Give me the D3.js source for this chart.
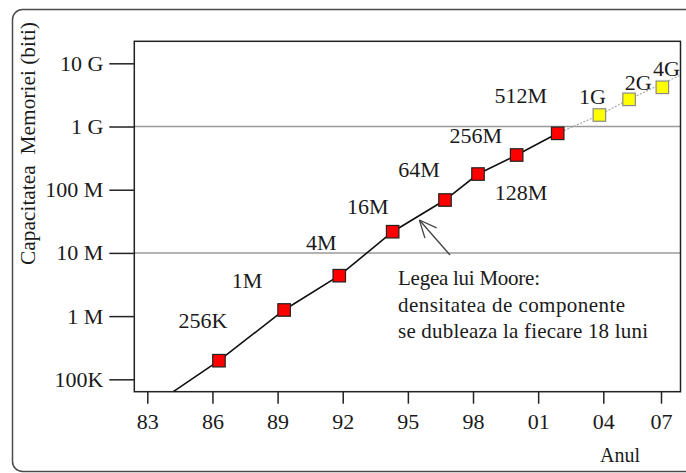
<!DOCTYPE html>
<html>
<head>
<meta charset="utf-8">
<script src="https://cdn.jsdelivr.net/npm/d3@7/dist/d3.min.js"></script>
<style>
body { margin: 0; padding: 0; background: #fff; overflow: hidden; }
svg text { font-family: 'Liberation Serif', 'Times New Roman', serif; fill: #1a1a1a; }
</style>
</head>
<body>
<div id="main"></div>
<script>
const chipYears = [1986.3, 1989.3, 1991.84, 1994.3, 1996.71, 1998.23, 2000.01, 2001.9];
const chipBits = [1.97e5, 1.25e6, 4.36e6, 2.165e7, 6.87e7, 1.77e8, 3.54e8, 7.8e8];
const chipLabels = ['256K', '1M', '4M', '16M', '64M', '128M', '256M', '512M'];

const futureYears = [2003.82, 2005.34, 2007.07];
const futureBits = [1.52e9, 2.69e9, 4.17e9];
const futureLabels = ['1G', '2G', '4G'];

// trend line: start before the first chip, end after the last projection
const trendStartYear = 1984.2, trendStartBits = 6.4e4;
const trendEndYear = 2008.0, trendEndBits = 6.5e9;

const yTickValues = [1e5, 1e6, 1e7, 1e8, 1e9, 1e10];
const yTickLabels = ['100K', '1 M', '10 M', '100 M', '1 G', '10 G'];
const gridValues = [1e7, 1e9];
const xTickYears = [1983, 1986, 1989, 1992, 1995, 1998, 2001, 2004, 2007];
const xTickLabels = ['83', '86', '89', '92', '95', '98', '01', '04', '07'];

const noteLines = ['Legea lui Moore:', 'densitatea de componente', 'se dubleaza la fiecare 18 luni'];
const arrowTip = [1995.53, 3.32e7];
const arrowTail = [1996.94, 9.26e6];

// label offsets from their squares (layout only)
const chipLabelOffsets = [[-16, -40], [-37, -30], [-18, -33], [-25, -25], [-26, -31], [43, 18], [-41, -20], [-37, -38]];
const futureLabelOffsets = [[-7, -19], [9, -17], [4, -19]];

const WIDTH = 686, HEIGHT = 473;
const PLOT = { left: 134.3, right: 680.5, top: 41.3, bottom: 391.7 };

const svg = d3.select('#main').append('svg')
    .attr('width', WIDTH)
    .attr('height', HEIGHT);

// outer rounded frame (cut by the image on the right)
svg.append('rect')
    .attr('x', 12.5).attr('y', 9.5)
    .attr('width', 700).attr('height', 462)
    .attr('rx', 10).attr('ry', 10)
    .attr('fill', 'none')
    .attr('stroke', '#4a4a4a')
    .attr('stroke-width', 1.5);

const x = d3.scaleLinear()
    .domain([1983, 2004, 2007])
    .range([147.3, 603.3, 661]);
const y = d3.scaleLog()
    .domain([63660, 2.23e10])
    .range([PLOT.bottom, PLOT.top]);

// grid lines at 10M and 1G
svg.selectAll('line.grid').data(gridValues).enter().append('line')
    .attr('class', 'grid')
    .attr('x1', PLOT.left).attr('x2', PLOT.right)
    .attr('y1', d => y(d)).attr('y2', d => y(d))
    .attr('stroke', '#9a9a9a')
    .attr('stroke-width', 1.5);

// plot frame
svg.append('rect')
    .attr('x', PLOT.left).attr('y', PLOT.top)
    .attr('width', PLOT.right - PLOT.left)
    .attr('height', PLOT.bottom - PLOT.top)
    .attr('fill', 'none')
    .attr('stroke', '#222')
    .attr('stroke-width', 1.5);

const axisY = d3.axisLeft(y)
    .tickValues(yTickValues)
    .tickFormat((d, i) => yTickLabels[i])
    .tickSize(25)
    .tickPadding(6);
const gy = svg.append('g')
    .attr('transform', `translate(${PLOT.left}, 0)`)
    .call(axisY);
gy.select('.domain').remove();
gy.selectAll('line').attr('stroke', '#222').attr('stroke-width', 1.5);
gy.selectAll('text')
    .attr('font-size', 22)
    .attr('fill', null);
gy.attr('font-family', null).attr('font-size', null);

const axisX = d3.axisBottom(x)
    .tickValues(xTickYears)
    .tickFormat((d, i) => xTickLabels[i])
    .tickSize(12)
    .tickPadding(10);
const gx = svg.append('g')
    .attr('transform', `translate(0, ${PLOT.bottom})`)
    .call(axisX);
gx.select('.domain').remove();
gx.selectAll('line').attr('stroke', '#222').attr('stroke-width', 1.5);
gx.selectAll('text')
    .attr('font-size', 22)
    .attr('fill', null);
gx.attr('font-family', null).attr('font-size', null);

// trend lines
const line = d3.line().x(d => x(d[0])).y(d => y(d[1]));
const blackPts = [[trendStartYear, trendStartBits]].concat(chipYears.map((d, i) => [d, chipBits[i]]));
const last = chipYears.length - 1;
const grayPts = [[chipYears[last], chipBits[last]], [futureYears[0], futureBits[0]], [futureYears[1], futureBits[1]], [trendEndYear, trendEndBits]];

svg.append('path')
    .datum(grayPts)
    .attr('d', line)
    .attr('fill', 'none')
    .attr('stroke', '#a8a8a8')
    .attr('stroke-width', 1.2)
    .attr('stroke-dasharray', '2,1.5');
svg.append('path')
    .datum(blackPts)
    .attr('d', line)
    .attr('fill', 'none')
    .attr('stroke', '#111')
    .attr('stroke-width', 1.6);

const SQ = 12.5;
svg.selectAll('rect.chip').data(chipYears).enter().append('rect')
    .attr('class', 'chip')
    .attr('x', d => x(d) - SQ / 2)
    .attr('y', (d, i) => y(chipBits[i]) - SQ / 2)
    .attr('width', SQ).attr('height', SQ)
    .attr('fill', '#ff0000')
    .attr('stroke', '#222')
    .attr('stroke-width', 1.2);
svg.selectAll('rect.future').data(futureYears).enter().append('rect')
    .attr('class', 'future')
    .attr('x', d => x(d) - SQ / 2)
    .attr('y', (d, i) => y(futureBits[i]) - SQ / 2)
    .attr('width', SQ).attr('height', SQ)
    .attr('fill', '#ffff00')
    .attr('stroke', '#8a8a8a')
    .attr('stroke-width', 1.2);

svg.selectAll('text.chipLabel').data(chipLabels).enter().append('text')
    .attr('class', 'chipLabel')
    .attr('x', (d, i) => x(chipYears[i]) + chipLabelOffsets[i][0])
    .attr('y', (d, i) => y(chipBits[i]) + chipLabelOffsets[i][1])
    .attr('dy', '0.35em')
    .attr('text-anchor', 'middle')
    .attr('font-size', 22)
    .text(d => d);
svg.selectAll('text.futureLabel').data(futureLabels).enter().append('text')
    .attr('class', 'futureLabel')
    .attr('x', (d, i) => x(futureYears[i]) + futureLabelOffsets[i][0])
    .attr('y', (d, i) => y(futureBits[i]) + futureLabelOffsets[i][1])
    .attr('dy', '0.35em')
    .attr('text-anchor', 'middle')
    .attr('font-size', 22)
    .text(d => d);

// annotation arrow (open head)
const tip = [x(arrowTip[0]), y(arrowTip[1])];
const tail = [x(arrowTail[0]), y(arrowTail[1])];
const ang = Math.atan2(tail[1] - tip[1], tail[0] - tip[0]);
const HEAD = 19, SPREAD = 0.42;
const arrow = svg.append('g').attr('stroke', '#444').attr('stroke-width', 1.3).attr('fill', 'none');
arrow.append('line')
    .attr('x1', tail[0]).attr('y1', tail[1])
    .attr('x2', tip[0]).attr('y2', tip[1]);
[-SPREAD, SPREAD].forEach(s => {
    arrow.append('line')
        .attr('x1', tip[0]).attr('y1', tip[1])
        .attr('x2', tip[0] + HEAD * Math.cos(ang + s))
        .attr('y2', tip[1] + HEAD * Math.sin(ang + s));
});

svg.selectAll('text.note').data(noteLines).enter().append('text')
    .attr('class', 'note')
    .attr('x', 398)
    .attr('y', (d, i) => 285 + i * 26.5)
    .attr('font-size', 21)
    .attr('textLength', (d, i) => [142, 227, 250][i])
    .attr('lengthAdjust', 'spacing')
    .text(d => d);

// axis titles
svg.append('text')
    .attr('transform', 'translate(35, 143.5) rotate(-90)')
    .attr('text-anchor', 'middle')
    .attr('font-size', 20)
    .attr('textLength', 243)
    .attr('lengthAdjust', 'spacingAndGlyphs')
    .text('Capacitatea\u00a0\u00a0Memoriei (biti)');
svg.append('text')
    .attr('x', 620)
    .attr('y', 462)
    .attr('text-anchor', 'middle')
    .attr('font-size', 20)
    .text('Anul');
</script>
</body>
</html>
